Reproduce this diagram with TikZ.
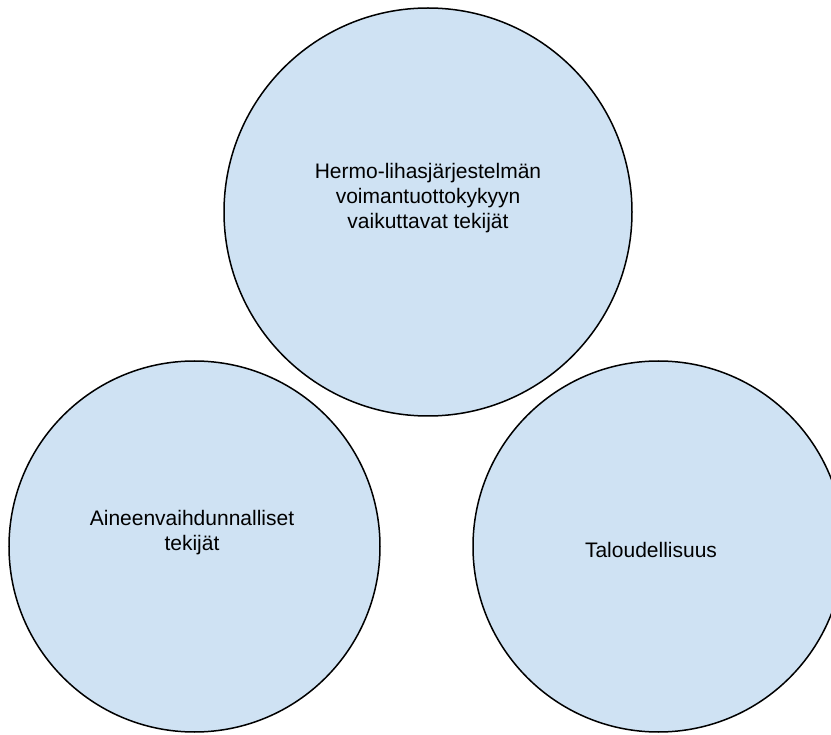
\documentclass[tikz,border=0pt]{standalone}
\usepackage{fontspec}
\setmainfont{Liberation Sans}
\usetikzlibrary{positioning}
\definecolor{paleblue}{HTML}{CFE2F3}
\tikzstyle{factor} = [circle, draw, line width=1.5pt, fill=paleblue, inner sep=0pt]
\tikzstyle{caption} = [align=center, font=\fontsize{21}{25}\selectfont, inner sep=0pt]

\begin{document}
\begin{tikzpicture}[x=1pt, y=-1pt]

	% Canvas
	\useasboundingbox (0,0) rectangle (831,735);
	\clip (0,0) rectangle (831,735);

	% Circles
	\node (neural) [factor, minimum size=408pt] at (428,212) {};
	\node (metabolic) [factor, minimum size=371pt] at (194.5,546.5) {};
	\node (economy) [factor, minimum size=371pt] at (658.5,546.5) {};

	% Texts
	\node (neural_text) [caption] at (428,198) {Hermo-lihasjärjestelmän\\voimantuottokykyyn\\vaikuttavat tekijät};
	\node (metabolic_text) [caption] at (192,533) {Aineenvaihdunnalliset\\tekijät};
	\node (economy_text) [caption] at (651,550) {Taloudellisuus};

\end{tikzpicture}
\end{document}
